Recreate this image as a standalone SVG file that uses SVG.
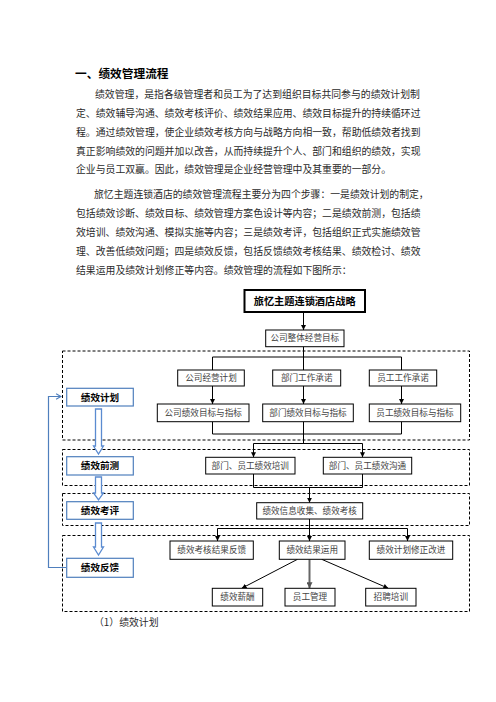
<svg xmlns="http://www.w3.org/2000/svg" width="496" height="702" viewBox="0 0 496 702">
<style>
.t{font-family:"Noto Sans CJK SC","Noto Sans",sans-serif;fill:#2a2a2a;}
.p{font-size:9.86px;}
.h{font-size:11.7px;font-weight:bold;fill:#000;}
.b{fill:#fff;stroke:#000;stroke-width:1;}
.bt{font-family:"Noto Sans CJK SC","Noto Sans",sans-serif;font-size:8.6px;fill:#444;text-anchor:middle;}
.lb{fill:#fff;stroke:#4f7fbd;stroke-width:1.2;}
.lt{font-family:"Noto Sans CJK SC","Noto Sans",sans-serif;font-size:9.6px;font-weight:bold;fill:#000;text-anchor:middle;}
.dash{fill:none;stroke:#000;stroke-width:1;stroke-dasharray:3,2;}
.c{fill:none;stroke:#000;stroke-width:1;}
.ba{fill:#fff;stroke:#5b8bd0;stroke-width:1.3;}
</style>
<defs>
<marker id="ah" viewBox="0 0 10 10" refX="10" refY="5" markerWidth="5" markerHeight="5" orient="auto" markerUnits="userSpaceOnUse">
<path d="M0,0 L10,5 L0,10 z" fill="#000"/>
</marker>
<marker id="ag" viewBox="0 0 10 10" refX="10" refY="5" markerWidth="6" markerHeight="6" orient="auto" markerUnits="userSpaceOnUse">
<path d="M0,0 L10,5 L0,10 z" fill="#555"/>
</marker>
<marker id="ab" viewBox="0 0 10 10" refX="9" refY="5" markerWidth="7" markerHeight="7" orient="auto" markerUnits="userSpaceOnUse">
<path d="M2,1 L9,5 L2,9" fill="none" stroke="#4f7fbd" stroke-width="1.6"/>
</marker>
</defs>
<rect width="496" height="702" fill="#fff"/>

<g id="text">
<text class="t h" x="75" y="78">一、绩效管理流程</text>
<text class="t p" x="95" y="98">绩效管理，是指各级管理者和员工为了达到组织目标共同参与的绩效计划制</text>
<text class="t p" x="76" y="117">定、绩效辅导沟通、绩效考核评价、绩效结果应用、绩效目标提升的持续循环过</text>
<text class="t p" x="76" y="136">程。通过绩效管理，使企业绩效考核方向与战略方向相一致，帮助低绩效者找到</text>
<text class="t p" x="76" y="154.5">真正影响绩效的问题并加以改善，从而持续提升个人、部门和组织的绩效，实现</text>
<text class="t p" x="76" y="173">企业与员工双赢。因此，绩效管理是企业经营管理中及其重要的一部分。</text>
<text class="t p" x="94" y="198">旅忆主题连锁酒店的绩效管理流程主要分为四个步骤：一是绩效计划的制定，</text>
<text class="t p" x="76" y="217">包括绩效诊断、绩效目标、绩效管理方案色设计等内容；二是绩效前测，包括绩</text>
<text class="t p" x="76" y="236">效培训、绩效沟通、模拟实施等内容；三是绩效考评，包括组织正式实施绩效管</text>
<text class="t p" x="76" y="254.5">理、改善低绩效问题；四是绩效反馈，包括反馈绩效考核结果、绩效检讨、绩效</text>
<text class="t p" x="76" y="274">结果运用及绩效计划修正等内容。绩效管理的流程如下图所示：</text>
<text class="t p" x="94" y="626">（1）绩效计划</text>
</g>

<g id="groups">
<rect class="dash" x="62.5" y="351" width="407" height="89"/>
<rect class="dash" x="62.5" y="449.5" width="407" height="36"/>
<rect class="dash" x="62.5" y="493.5" width="407" height="32"/>
<rect class="dash" x="62.5" y="535.5" width="407" height="76"/>
</g>

<g id="connectors">
<line class="c" x1="303.5" y1="312" x2="303.5" y2="330" marker-end="url(#ah)"/>
<polyline class="c" points="303.5,346.5 303.5,357"/>
<polyline class="c" points="212.5,370 212.5,357 401.5,357 401.5,370"/>
<line class="c" x1="303.5" y1="357" x2="303.5" y2="370"/>
<line class="c" x1="212.5" y1="386" x2="212.5" y2="404" marker-end="url(#ah)"/>
<line class="c" x1="303.5" y1="386" x2="303.5" y2="404" marker-end="url(#ah)"/>
<line class="c" x1="401.5" y1="386" x2="401.5" y2="404" marker-end="url(#ah)"/>
<polyline class="c" points="212.5,421.5 212.5,434 401.5,434 401.5,421.5"/>
<line class="c" x1="303.5" y1="421.5" x2="303.5" y2="443.5"/>
<polyline class="c" points="253.5,457 253.5,443.5 362.5,443.5 362.5,457"/>
<line class="c" x1="253.5" y1="450" x2="253.5" y2="457.3" marker-end="url(#ah)"/>
<line class="c" x1="362.5" y1="450" x2="362.5" y2="457.3" marker-end="url(#ah)"/>
<polyline class="c" points="253.5,474 253.5,487.5 362.5,487.5 362.5,474"/>
<line class="c" x1="309.5" y1="487.5" x2="309.5" y2="502.7" marker-end="url(#ah)"/>
<line class="c" x1="309.5" y1="519" x2="309.5" y2="541" marker-end="url(#ah)"/>
<polyline class="c" points="217.5,541 217.5,528.5 407.5,528.5 407.5,541"/>
<line class="c" x1="217.5" y1="534" x2="217.5" y2="541" marker-end="url(#ah)"/>
<line class="c" x1="407.5" y1="534" x2="407.5" y2="541" marker-end="url(#ah)"/>
<line class="c" x1="297.5" y1="559.3" x2="241.7" y2="588.3" marker-end="url(#ah)"/>
<line x1="309.5" y1="559.3" x2="309.5" y2="588.3" stroke="#666" stroke-width="2" marker-end="url(#ag)"/>
<line class="c" x1="321.7" y1="559.3" x2="388.3" y2="588.3" marker-end="url(#ah)"/>
<polyline points="66,567.5 48.5,567.5 48.5,396.5 61,396.5" fill="none" stroke="#4f7fbd" stroke-width="1.2" marker-end="url(#ab)"/>
<path class="ba" d="M95.5,409 H101.5 V446 H103.5 L98.5,454 L93.5,446 H95.5 Z"/>
<path class="ba" d="M95.5,477 H101.5 V493 H103.5 L98.5,500 L93.5,493 H95.5 Z"/>
<path class="ba" d="M95.5,523 H101.5 V547 H103.5 L98.5,555 L93.5,547 H95.5 Z"/>
</g>

<g id="n-strategy"><rect x="244.5" y="290" width="120.5" height="22" fill="#fff" stroke="#000" stroke-width="2"/><text class="lt" x="304.7" y="304.5" style="font-size:10.2px">旅忆主题连锁酒店战略</text></g>
<g id="n-goal"><rect class="b" x="265.7" y="330" width="78.3" height="16.7"/><text class="bt" x="304.8" y="341.4">公司整体经营目标</text></g>
<g id="n-plan1"><rect class="b" x="177.7" y="370" width="66.6" height="16"/><text class="bt" x="211" y="381">公司经营计划</text></g>
<g id="n-plan2"><rect class="b" x="272.7" y="370" width="68" height="16"/><text class="bt" x="306.7" y="381">部门工作承诺</text></g>
<g id="n-plan3"><rect class="b" x="369.3" y="370" width="67.4" height="16"/><text class="bt" x="403" y="381">员工工作承诺</text></g>
<g id="n-kpi1"><rect class="b" x="157.3" y="404" width="91.7" height="17.7"/><text class="bt" x="203.2" y="415.8">公司绩效目标与指标</text></g>
<g id="n-kpi2"><rect class="b" x="262.7" y="404" width="90.6" height="17.7"/><text class="bt" x="308" y="415.8">部门绩效目标与指标</text></g>
<g id="n-kpi3"><rect class="b" x="369.3" y="404" width="91.4" height="17.7"/><text class="bt" x="415" y="415.8">员工绩效目标与指标</text></g>
<g id="n-train"><rect class="b" x="205.7" y="457.3" width="89.3" height="16.7"/><text class="bt" x="250.3" y="468.7">部门、员工绩效培训</text></g>
<g id="n-comm"><rect class="b" x="323.3" y="457.3" width="88.4" height="16.7"/><text class="bt" x="367.5" y="468.7">部门、员工绩效沟通</text></g>
<g id="n-eval"><rect class="b" x="256.7" y="502.7" width="106" height="16.3"/><text class="bt" x="309.7" y="513.9">绩效信息收集、绩效考核</text></g>
<g id="n-fb1"><rect class="b" x="170" y="541" width="83.3" height="18.3"/><text class="bt" x="211.7" y="553.2">绩效考核结果反馈</text></g>
<g id="n-fb2"><rect class="b" x="279.3" y="541" width="65.7" height="18.3"/><text class="bt" x="312.2" y="553.2">绩效结果运用</text></g>
<g id="n-fb3"><rect class="b" x="369.3" y="541" width="83.4" height="18.3"/><text class="bt" x="411" y="553.2">绩效计划修正改进</text></g>
<g id="n-use1"><rect class="b" x="212.3" y="588.3" width="50.4" height="17.7"/><text class="bt" x="237.5" y="600.2">绩效薪酬</text></g>
<g id="n-use2"><rect class="b" x="285" y="588.3" width="50" height="17.7"/><text class="bt" x="310" y="600.2">员工管理</text></g>
<g id="n-use3"><rect class="b" x="365.7" y="588.3" width="50.3" height="17.7"/><text class="bt" x="390.8" y="600.2">招聘培训</text></g>

<g id="n-l1"><rect class="lb" x="66.7" y="388.3" width="66.6" height="17.7"/><text class="lt" x="100" y="400.5">绩效计划</text></g>
<g id="n-l2"><rect class="lb" x="66.7" y="456.7" width="66.6" height="18.3"/><text class="lt" x="100" y="469.2">绩效前测</text></g>
<g id="n-l3"><rect class="lb" x="66.7" y="501.7" width="66.6" height="17.6"/><text class="lt" x="100" y="513.8">绩效考评</text></g>
<g id="n-l4"><rect class="lb" x="66.7" y="558.3" width="66.6" height="19"/><text class="lt" x="100" y="571.2">绩效反馈</text></g>
</svg>
